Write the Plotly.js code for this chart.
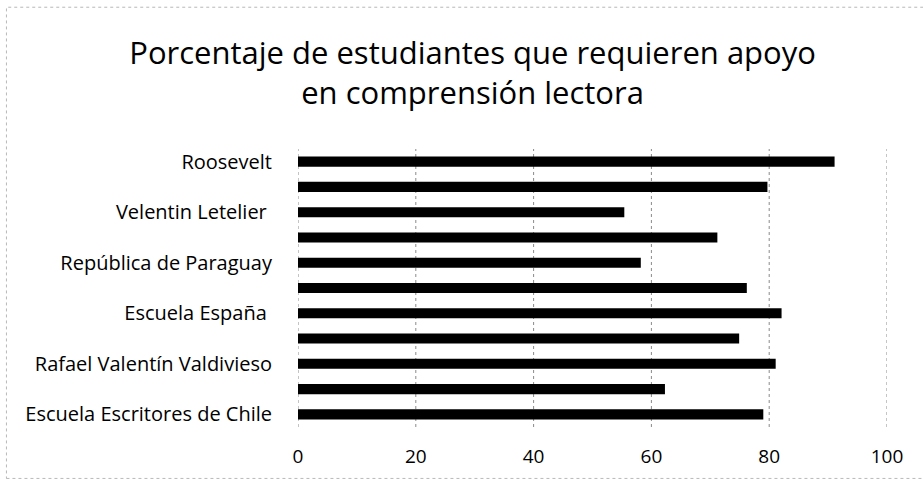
<!DOCTYPE html>
<html>
<head>
<meta charset="utf-8">
<script src="https://cdn.plot.ly/plotly-3.0.1.min.js"></script>
<style>html,body{margin:0;padding:0;background:#fff;}#chart{width:923px;height:484px;}</style>
</head>
<body>
<div id="chart"></div>
<script>
// Bottom-to-top order (as plotted); every other label is hidden in the original
const labels = [
  "Escuela Escritores de Chile", "",
  "Rafael Valentín Valdivieso", "",
  "Escuela España\u00a0", "",
  "República de Paraguay", "",
  "Velentin Letelier\u00a0", "",
  "Roosevelt"
];
const values = [79.0, 62.3, 81.1, 74.9, 82.1, 76.2, 58.2, 71.2, 55.4, 79.7, 91.1];
const xTicks = [0, 20, 40, 60, 80, 100];
const titleText = "Porcentaje de estudiantes que requieren apoyo<br>en comprensión lectora";

const positions = values.map((_, i) => i);
const FONT = "'Open Sans', Lato, sans-serif";

const W = 923, H = 484;
const L = 298, R = 36, T = 149, B = 57;

// dotted vertical gridlines at every tick (including 0 and 100)
const gridShapes = xTicks.map(v => ({
  type: "line", xref: "x", yref: "paper",
  x0: v, x1: v, y0: 0, y1: 1,
  line: {color: "#8a8a8a", width: 1, dash: "dot"},
  layer: "below"
}));

Plotly.newPlot("chart", [{
  type: "bar",
  orientation: "h",
  x: values,
  y: positions,
  marker: {color: "#000000", line: {width: 0}},
  hoverinfo: "x+y"
}], {
  width: W, height: H,
  margin: {l: L, r: R, t: T, b: B, pad: 0},
  paper_bgcolor: "#ffffff",
  plot_bgcolor: "#ffffff",
  bargap: 0.6,
  showlegend: false,
  font: {family: FONT, color: "#000000"},
  title: {
    text: titleText,
    font: {family: FONT, size: 31, weight: 500, color: "#000000"},
    x: 0.512, xanchor: "center",
    y: 0.868, yanchor: "middle"
  },
  xaxis: {
    range: [0, 100],
    tickvals: xTicks,
    ticktext: xTicks.map(String),
    showgrid: false,
    zeroline: false,
    showline: false,
    ticks: "",
    ticklabelstandoff: 16,
    tickfont: {family: FONT, size: 19, weight: 500, color: "#000000"},
    fixedrange: true
  },
  yaxis: {
    range: [-0.5, values.length - 0.5],
    tickvals: positions,
    ticktext: labels,
    showgrid: false,
    zeroline: false,
    showline: false,
    ticks: "",
    ticklabelstandoff: 25,
    tickfont: {family: FONT, size: 20, weight: 500, color: "#000000"},
    fixedrange: true
  },
  shapes: gridShapes.concat([{
    type: "rect", xref: "paper", yref: "paper",
    x0: -0.495, x1: 1.07, y0: -0.185, y1: 1.51,
    line: {color: "#b8b8b8", width: 1, dash: "dot"},
    fillcolor: "rgba(0,0,0,0)", layer: "below"
  }])
}, {displayModeBar: false, staticPlot: true});
</script>
</body>
</html>
